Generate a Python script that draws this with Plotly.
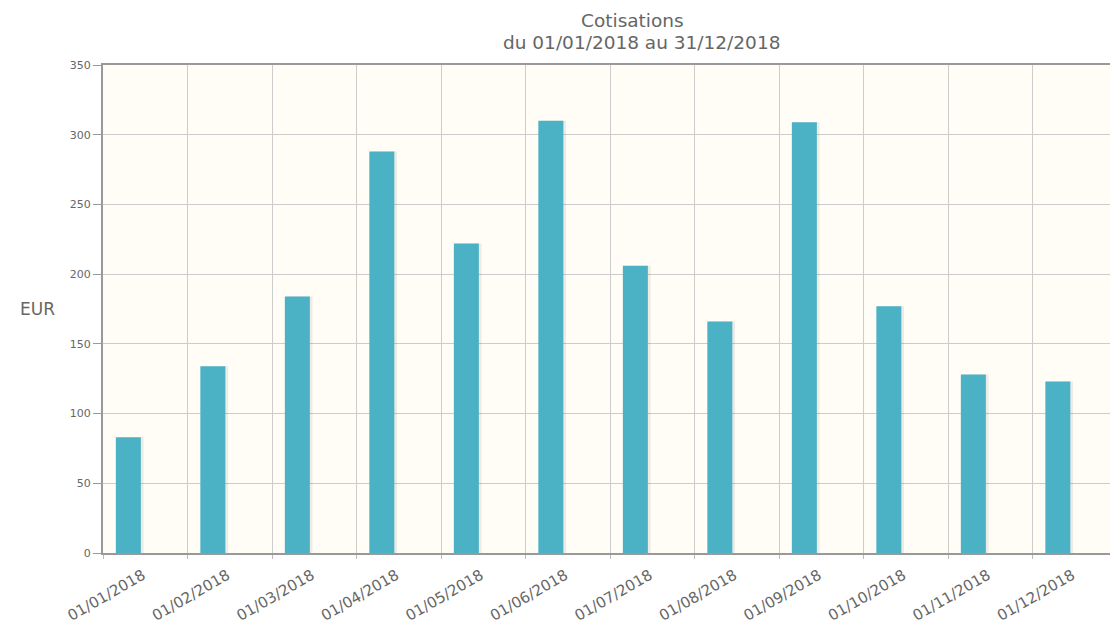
import plotly.graph_objects as go

title_line1 = "Cotisations"
title_line2 = "du 01/01/2018 au 31/12/2018"
months = ["01/01/2018", "01/02/2018", "01/03/2018", "01/04/2018", "01/05/2018", "01/06/2018",
          "01/07/2018", "01/08/2018", "01/09/2018", "01/10/2018", "01/11/2018", "01/12/2018"]
values = [83, 134, 184, 288, 222, 310, 206, 166, 309, 177, 128, 123]

idx = list(range(len(months)))
bar_pos = [i + 0.3 for i in idx]
shadow_pos = [i + 0.33 for i in idx]
label_pos = [i + 0.47 for i in idx]
xmax = 1007 / 84.5

fig = go.Figure()
fig.add_trace(go.Bar(x=shadow_pos, y=values, width=0.3, xaxis="x", yaxis="y",
                     marker=dict(color="rgba(0,0,0,0.07)", line=dict(width=0)),
                     hoverinfo="skip", showlegend=False))
fig.add_trace(go.Bar(x=bar_pos, y=values, width=0.296, xaxis="x2", yaxis="y",
                     marker=dict(color="#4bb2c5", line=dict(width=0)),
                     showlegend=False))

fig.update_layout(
    width=1110, height=634,
    autosize=False,
    margin=dict(l=103, r=0, t=65, b=81),
    paper_bgcolor="white",
    plot_bgcolor="#fffdf6",
    barmode="overlay",
    font=dict(family="DejaVu Sans", color="#666666"),
    xaxis=dict(
        range=[0, xmax],
        tickmode="array", tickvals=label_pos, ticktext=months,
        tickangle=-30, tickfont=dict(size=15, color="#666666"),
        ticklabelstandoff=6,
        showgrid=False, ticks="",
        showline=True, linecolor="#999999", linewidth=2, mirror=False,
        zeroline=False,
        minor=dict(tickmode="linear", tick0=0, dtick=1, showgrid=True,
                   gridcolor="#cccccc", gridwidth=1, ticks="outside",
                   ticklen=4, tickcolor="#bbbbbb"),
    ),
    xaxis2=dict(
        overlaying="x", side="top", range=[0, xmax],
        showgrid=False, showticklabels=False, ticks="", zeroline=False,
        showline=True, linecolor="#999999", linewidth=2,
    ),
    yaxis=dict(
        range=[0, 350], dtick=50, tick0=0,
        tickfont=dict(size=11, color="#666666"),
        showgrid=True, gridcolor="#cccccc", gridwidth=1,
        ticks="outside", ticklen=8, tickcolor="#999999",
        showline=True, linecolor="#999999", linewidth=2,
        zeroline=False,
    ),
    annotations=[
        dict(text=title_line1, xref="paper", yref="paper",
             x=(632 - 103) / 1007, y=1 + (65 - 20) / 488,
             xanchor="center", yanchor="middle", showarrow=False,
             font=dict(size=18.5, color="#666666")),
        dict(text=title_line2, xref="paper", yref="paper",
             x=(641.5 - 103) / 1007, y=1 + (65 - 43) / 488,
             xanchor="center", yanchor="middle", showarrow=False,
             font=dict(size=18.5, color="#666666")),
        dict(text="EUR", xref="paper", yref="paper", x=-0.0844, y=0.5,
             xanchor="left", yanchor="middle", showarrow=False,
             font=dict(size=17, color="#666666")),
    ],
)

fig.write_html("out.html", config={"responsive": False, "displayModeBar": False},
               post_script="document.body.style.margin='0px';document.body.style.overflow='hidden';")
